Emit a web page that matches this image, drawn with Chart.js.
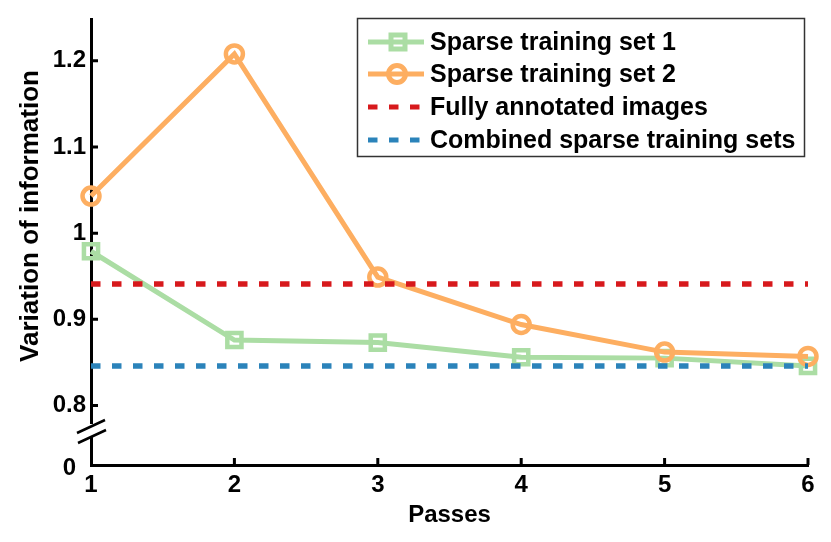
<!DOCTYPE html>
<html>
<head>
<meta charset="utf-8">
<script src="https://cdn.jsdelivr.net/npm/chart.js@4.4.1/dist/chart.umd.min.js"></script>
<style>
html, body { margin: 0; padding: 0; background: #fff; }
#wrap { width: 831px; height: 542px; }
</style>
</head>
<body>
<div id="wrap"><canvas id="viChart" width="831" height="542"></canvas></div>
<script>
// values
const passes = ['1', '2', '3', '4', '5', '6'];
const sparseSet1 = [0.979, 0.876, 0.873, 0.856, 0.855, 0.846];
const sparseSet2 = [1.043, 1.208, 0.949, 0.894, 0.862, 0.857];
const fullyAnnotated = 0.941;
const combinedSparse = 0.846;

// broken y axis: bottom of the plot is labelled 0
const yTickValues = [0.8, 0.9, 1.0, 1.1, 1.2];
const yTickLabels = ['0.8', '0.9', '1', '1.1', '1.2'];
const yBreakLabel = '0';
const yMin = 0.731;
const yMax = 1.248;

const seriesNames = ['Sparse training set 1', 'Sparse training set 2', 'Fully annotated images', 'Combined sparse training sets'];
const colors = ['#abdda4', '#fdae61', '#d7191c', '#2b83ba'];

const fontFamily = '"Liberation Sans", Arial, Helvetica, sans-serif';
Chart.defaults.font.family = fontFamily;
Chart.defaults.font.weight = 'bold';
Chart.defaults.color = '#000';

const boldFont = { size: 24, weight: 'bold' };

// inward tick marks, axis break, "0" label, y title and the boxed legend
const axisDecor = {
    id: 'axisDecor',
    afterDraw(chart) {
        const ctx = chart.ctx;
        const area = chart.chartArea;
        const xs = chart.scales.x;
        const ys = chart.scales.y;
        ctx.save();
        ctx.strokeStyle = '#000';
        ctx.lineWidth = 3;
        ctx.beginPath();
        for (let i = 1; i < passes.length; i++) {
            const px = xs.getPixelForValue(i);
            ctx.moveTo(px, area.bottom);
            ctx.lineTo(px, area.bottom - 7);
        }
        yTickValues.forEach(v => {
            const py = ys.getPixelForValue(v);
            ctx.moveTo(area.left, py);
            ctx.lineTo(area.left + 7, py);
        });
        ctx.stroke();

        // axis break
        const bx = area.left;
        ctx.fillStyle = '#fff';
        ctx.fillRect(bx - 3, 424, 6, 13);
        ctx.lineWidth = 2.5;
        ctx.beginPath();
        ctx.moveTo(bx - 14, 433); ctx.lineTo(bx + 14, 420);
        ctx.moveTo(bx - 13, 443); ctx.lineTo(bx + 15, 430);
        ctx.stroke();

        ctx.fillStyle = '#000';
        ctx.font = 'bold 24px ' + fontFamily;
        ctx.textAlign = 'right';
        ctx.textBaseline = 'middle';
        ctx.fillText(yBreakLabel, 76, area.bottom + 3);

        // y title centred on the upper part of the axis
        ctx.font = 'bold 26px ' + fontFamily;
        ctx.textAlign = 'center';
        ctx.textBaseline = 'alphabetic';
        ctx.translate(38, 216);
        ctx.rotate(-Math.PI / 2);
        ctx.fillText('Variation of information', 0, 0);
        ctx.restore();

        // legend
        ctx.save();
        ctx.fillStyle = '#fff';
        ctx.fillRect(357, 18, 447, 139);
        ctx.strokeStyle = '#333';
        ctx.lineWidth = 1.5;
        ctx.strokeRect(357.5, 18.5, 447, 138);
        const rows = [42, 74, 107, 140];
        ctx.font = 'bold 25px ' + fontFamily;
        ctx.textBaseline = 'middle';
        ctx.textAlign = 'left';
        rows.forEach((ry, i) => {
            ctx.strokeStyle = colors[i];
            ctx.lineWidth = 5;
            if (i >= 2) ctx.setLineDash([9.5, 11.5]);
            ctx.beginPath();
            ctx.moveTo(368, ry);
            ctx.lineTo(424, ry);
            ctx.stroke();
            ctx.setLineDash([]);
            ctx.lineWidth = 5;
            if (i === 0) {
                ctx.strokeRect(391, ry - 7, 14, 14);
            } else if (i === 1) {
                ctx.beginPath();
                ctx.arc(397, ry, 8.5, 0, Math.PI * 2);
                ctx.stroke();
            }
            ctx.fillStyle = '#000';
            ctx.fillText(seriesNames[i], 430, ry + 1);
        });
        ctx.restore();
    }
};

const viData = {
    labels: passes,
    datasets: [{
        label: seriesNames[0],
        data: sparseSet1,
        borderColor: colors[0],
        backgroundColor: 'rgba(0,0,0,0)',
        borderWidth: 5,
        pointStyle: 'rect',
        pointRadius: 10,
        pointBorderWidth: 4.5,
        order: 4,
        clip: false
    }, {
        label: seriesNames[1],
        data: sparseSet2,
        borderColor: colors[1],
        backgroundColor: 'rgba(0,0,0,0)',
        borderWidth: 5,
        pointStyle: 'circle',
        pointRadius: 8.5,
        pointBorderWidth: 4.5,
        order: 3,
        clip: false
    }, {
        label: seriesNames[2],
        data: passes.map(() => fullyAnnotated),
        borderColor: colors[2],
        borderWidth: 5.5,
        borderDash: [9.5, 11.5],
        borderCapStyle: 'butt',
        pointRadius: 0,
        order: 2
    }, {
        label: seriesNames[3],
        data: passes.map(() => combinedSparse),
        borderColor: colors[3],
        borderWidth: 5.5,
        borderDash: [9.5, 11.5],
        borderCapStyle: 'butt',
        pointRadius: 0,
        order: 1
    }]
};

const viConfig = {
    type: 'line',
    data: viData,
    options: {
        responsive: false,
        animation: false,
        layout: { padding: { top: 15, right: 23, left: 0, bottom: 0 } },
        scales: {
            x: {
                type: 'category',
                offset: false,
                grid: { display: false, drawTicks: false },
                border: { display: true, color: '#000', width: 3 },
                ticks: { font: boldFont, color: '#000', padding: 6, maxRotation: 0 },
                title: { display: true, text: 'Passes', font: boldFont, color: '#000', padding: { top: 2, bottom: 12 } },
                afterFit: s => { s.height = 77; }
            },
            y: {
                min: yMin,
                max: yMax,
                afterBuildTicks: s => { s.ticks = [yMin].concat(yTickValues).map(v => ({ value: v })); },
                grid: { display: false, drawTicks: false },
                border: { display: true, color: '#000', width: 3 },
                ticks: {
                    font: boldFont,
                    color: '#000',
                    padding: 5,
                    autoSkip: false,
                    // the "0" under the break is drawn by axisDecor
                    callback: v => v === yMin ? '' : yTickLabels[yTickValues.indexOf(v)]
                },
                afterFit: s => { s.width = 91; }
            }
        },
        plugins: {
            legend: { display: false },
            tooltip: { enabled: false }
        }
    },
    plugins: [axisDecor]
};

var ctx = document.getElementById('viChart');
var viChart = new Chart(ctx, viConfig);
</script>
</body>
</html>
